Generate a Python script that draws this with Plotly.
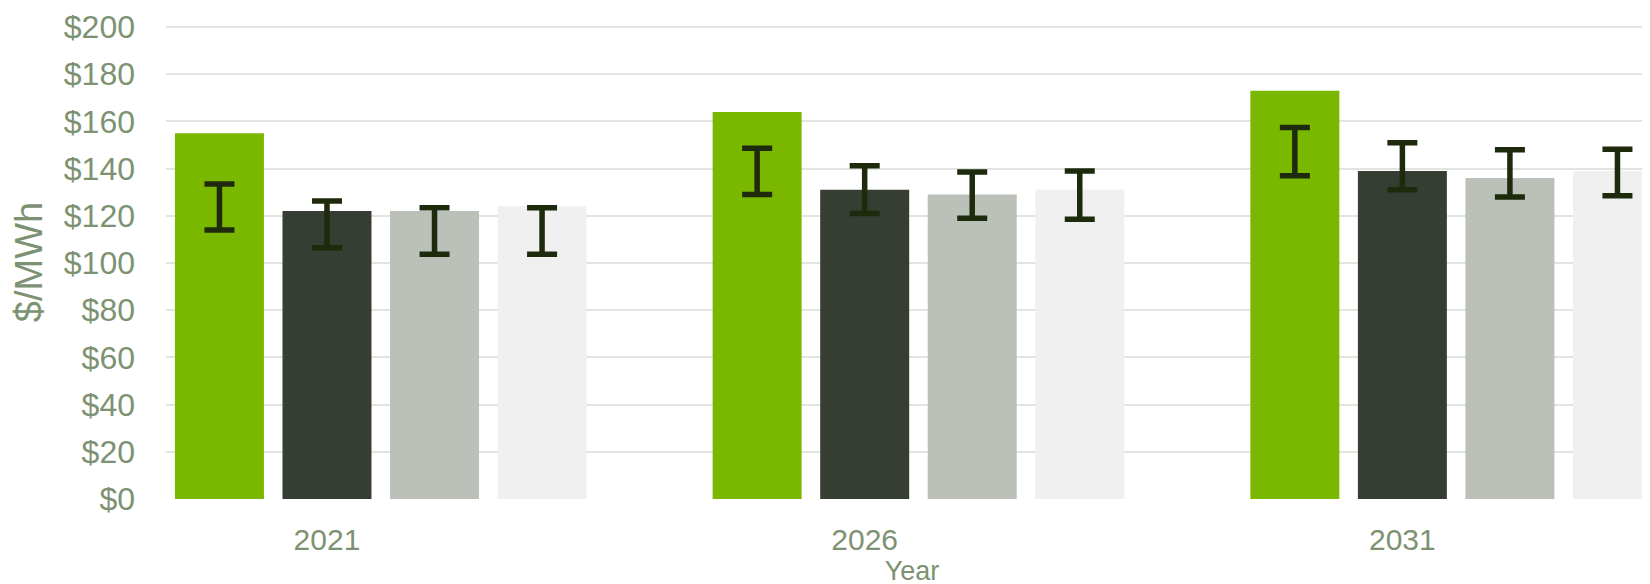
import plotly.graph_objects as go

years = ["2021", "2026", "2031"]
series_names = ["Series A", "Series B", "Series C", "Series D"]
values = {
    "Series A": [155, 164, 173],
    "Series B": [122, 131, 139],
    "Series C": [122, 129, 136],
    "Series D": [124, 131, 139],
}
err_low = {
    "Series A": [114, 129, 137],
    "Series B": [106.5, 121, 131],
    "Series C": [103.7, 119, 128],
    "Series D": [103.7, 118.5, 128.5],
}
err_high = {
    "Series A": [133.5, 148.6, 157.4],
    "Series B": [126.3, 141.2, 151],
    "Series C": [123.4, 138.6, 148],
    "Series D": [123.4, 139, 148.2],
}
y_ticks = [0, 20, 40, 60, 80, 100, 120, 140, 160, 180, 200]

colors = ["#7AB800", "#363E33", "#BBC0B9", "#F0F0F0"]
offsets = [-0.2, 0.0, 0.2, 0.4]
bar_w = 0.1655
err_color = "#1E2A0C"
text_color = "#7D9272"
grid_color = "#E2E5DF"
font_family = "Liberation Sans, Arial, sans-serif"

fig = go.Figure()
xs_base = list(range(len(years)))
for s, name in enumerate(series_names):
    xs = [i + offsets[s] for i in xs_base]
    fig.add_trace(go.Bar(
        x=xs, y=values[name], width=bar_w, name=name,
        marker=dict(color=colors[s], line=dict(width=0)),
        showlegend=False, hoverinfo="y",
    ))
for s, name in enumerate(series_names):
    xs = [i + offsets[s] for i in xs_base]
    lo = err_low[name]
    hi = err_high[name]
    mid = [(a + b) / 2 for a, b in zip(lo, hi)]
    half = [(b - a) / 2 for a, b in zip(lo, hi)]
    fig.add_trace(go.Scatter(
        x=xs, y=mid, mode="markers",
        marker=dict(size=1, opacity=0),
        error_y=dict(type="data", array=half, symmetric=True,
                     color=err_color, thickness=5.5, width=15),
        showlegend=False, hoverinfo="skip",
    ))

fig.update_layout(
    width=1650, height=584,
    margin=dict(l=158, r=0, t=17, b=93, autoexpand=False),
    plot_bgcolor="white", paper_bgcolor="white",
    barmode="overlay",
    font=dict(family=font_family, color=text_color),
    xaxis=dict(
        range=[-0.2994, 2.4754],
        tickmode="array", tickvals=xs_base, ticktext=years,
        showgrid=False, zeroline=False, showline=False, ticks="",
        tickfont=dict(size=30, color=text_color),
        ticklabelstandoff=20,
        title=dict(text="Year", font=dict(size=27, color=text_color), standoff=4),
        automargin=False,
    ),
    yaxis=dict(
        range=[0, 200.85],
        tickmode="array", tickvals=y_ticks,
        ticktext=["$" + str(v) for v in y_ticks],
        showgrid=True, gridcolor=grid_color, gridwidth=2,
        zeroline=False, showline=False, ticks="",
        tickfont=dict(size=32, color=text_color),
        ticklabelstandoff=30,
        title=dict(text="$/MWh", font=dict(size=38, color=text_color), standoff=14),
        automargin=False,
    ),
)

fig.write_html("out.html")
